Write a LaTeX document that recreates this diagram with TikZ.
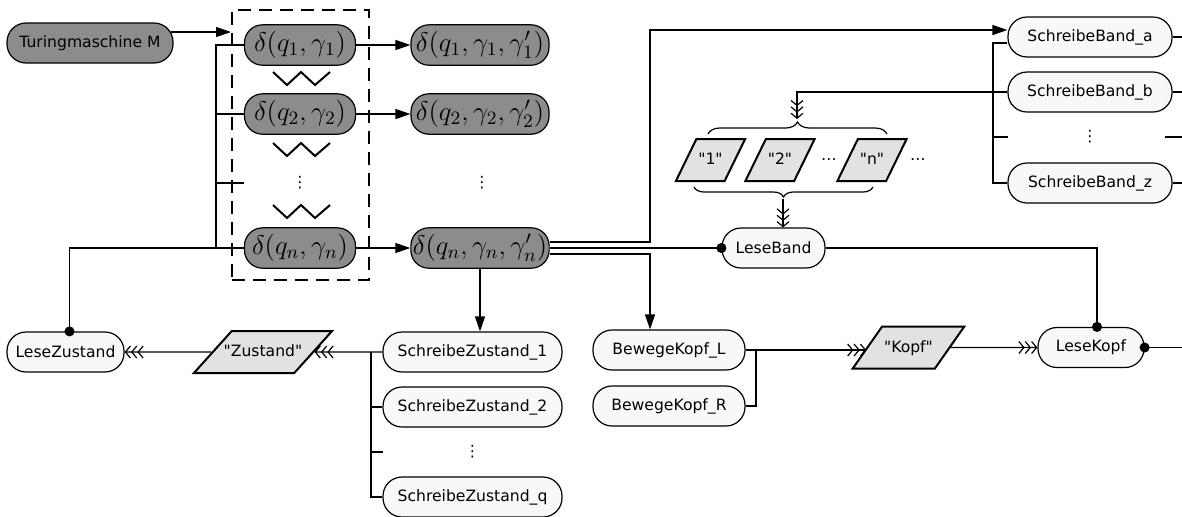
\RequirePackage{fix-cm}
\documentclass[tikz,border=0pt]{standalone}
\usepackage[no-math]{fontspec}
\newfontfamily\sansschrift{DejaVu Sans}
\usetikzlibrary{shapes.geometric, arrows.meta, decorations.pathreplacing}
\definecolor{dunkelgrau}{HTML}{8C8C8C}
\definecolor{hellgrau}{HTML}{E2E2E2}
\definecolor{fastweiss}{HTML}{F8F8F8}
\newcommand\beschriftung{\sansschrift\fontsize{7.8}{9}\selectfont}
\tikzset{
  zustand/.style={rectangle, draw, line width=0.6pt, fill=dunkelgrau, rounded corners=9pt,
    minimum height=19pt, inner xsep=1pt, font=\fontsize{13.5}{16}\selectfont},
  aktion/.style={rectangle, draw, line width=0.6pt, fill=fastweiss, rounded corners=9.5pt,
    minimum height=20pt, inner xsep=1pt, font=\beschriftung},
  daten/.style 2 args={trapezium, trapezium left angle=#1, trapezium right angle=#2,
    trapezium stretches body, draw, line width=1pt, fill=hellgrau, text height=6pt,
    text depth=1.5pt, inner xsep=1pt, inner ysep=6.75pt, font=\beschriftung},
  punkte/.style={inner sep=0pt, font=\beschriftung},
  verbindung/.style={line width=0.6pt},
  pfeil/.style={verbindung, -{Triangle[length=7.5pt,width=5pt]}},
  datenpfeil/.style={verbindung, -{Straight Barb[length=2.5pt,width=6pt]
    Straight Barb[length=2.5pt,width=6pt] Straight Barb[length=2.5pt,width=6pt]}},
  punktpfeil/.style={verbindung, -{Circle[length=5pt]}, shorten >=-2.5pt},
}
\begin{document}
\begin{tikzpicture}[x=0.5pt, y=-0.5pt]
\useasboundingbox (0,0) rectangle (1182,516);
% Turingmaschine und Uebergaenge
\node[draw, line width=1pt, dash pattern=on 6.5pt off 4pt, minimum width=68.5pt, minimum height=135pt, inner sep=0pt] (auswahl) at (300.5,145) {};
\node[zustand, font=\beschriftung, minimum width=83pt, minimum height=20pt, rounded corners=9.5pt] (tm) at (90,43) {Turingmaschine M};
\node[zustand, minimum width=55.5pt] (d1) at (300,45) {$\delta(q_1,\gamma_1)$};
\node[zustand, minimum width=55.5pt] (d2) at (300,114) {$\delta(q_2,\gamma_2)$};
\node[punkte, minimum width=55.5pt] (dd) at (300,183) {⋮};
\node[zustand, minimum width=55.5pt] (dn) at (300,248) {$\delta(q_n,\gamma_n)$};
\node[zustand, minimum width=69pt] (e1) at (480,45) {$\delta(q_1,\gamma_1,\gamma'_1)$};
\node[zustand, minimum width=69pt] (e2) at (480,114) {$\delta(q_2,\gamma_2,\gamma'_2)$};
\node[punkte] (ed) at (482,183) {⋮};
\node[zustand, minimum width=69pt] (en) at (480,248) {$\delta(q_n,\gamma_n,\gamma'_n)$};
\draw[line width=1pt] (273,72) -- (287,85) -- (301,72) -- (315,85) -- (330,72);
\draw[line width=1pt] (273,143) -- (287,156) -- (301,143) -- (315,156) -- (330,143);
\draw[line width=1pt] (273,205) -- (287,218) -- (301,205) -- (315,218) -- (330,205);
\coordinate (bl) at (216,0);
\draw[pfeil] ([xshift=-1.5pt,yshift=5.5pt]tm.east) -- ([yshift=5.5pt]tm.east -| auswahl.west);
\draw[verbindung] (d1.west) -- (d1.west -| bl) -- (dn.west -| bl) -- (dn.west);
\draw[verbindung] (d2.west) -- (d2.west -| bl);
\draw[verbindung] (dd.west) -- (dd.west -| bl);
\draw[pfeil] (d1.east) -- (e1.west);
\draw[pfeil] (d2.east) -- (e2.west);
\draw[pfeil] (dn.east) -- (en.west);
% Band
\node[aktion, minimum width=82pt] (sba) at (1090,37) {SchreibeBand\_a};
\node[aktion, minimum width=82pt] (sbb) at (1090,92) {SchreibeBand\_b};
\node[punkte, minimum width=82pt] (sbd) at (1090,137) {⋮};
\node[aktion, minimum width=82pt] (sbz) at (1090,183) {SchreibeBand\_z};
\node[daten={64}{116}, minimum width=34pt] (b1) at (710.5,160) {"1"};
\node[daten={64}{116}, minimum width=34pt] (b2) at (780,160) {"2"};
\node[punkte] (bp1) at (829,160) {…};
\node[daten={64}{116}, minimum width=34pt] (bn) at (872,160) {"n"};
\node[punkte] (bp2) at (918,160) {…};
\node[aktion, minimum width=51.5pt] (lb) at (773.5,248) {LeseBand};
\draw[verbindung, decorate, decoration={brace, amplitude=6pt}] (708,134) -- (887,134);
\draw[verbindung, decorate, decoration={brace, amplitude=5pt, mirror}] (694,187) -- (873,187);
\coordinate (klo) at (797,119);
\coordinate (klu) at (783,199);
\coordinate (knick) at (650,0);
\coordinate (bb) at (993,0);
\coordinate (rand) at (1182,0);
\draw[pfeil] ([yshift=3pt]en.east) -| ([yshift=3.5pt]sba.west -| knick) -- ([yshift=3.5pt]sba.west);
\draw[punktpfeil] (en.east) -- (lb.west);
\draw[verbindung] ([yshift=-3pt]sba.west) -| (bb |- sbz.west) -- (sbz.west);
\draw[verbindung] (sbd.west) -- (sbd.west -| bb);
\draw[datenpfeil] (sbb.west) -| (klo);
\draw[datenpfeil] (klu) -- (klu |- lb.north);
\draw[verbindung] (sba.east) -- (sba.east -| rand);
\draw[verbindung] (sbb.east) -- (sbb.east -| rand);
\draw[verbindung] ([xshift=-3.5pt]sbd.east) -- (sbd.east -| rand);
\draw[verbindung] (sbz.east) -- (sbz.east -| rand);
% Zustand
\node[aktion, minimum width=58.5pt] (lz) at (65.5,352) {LeseZustand};
\node[daten={48}{132}, minimum width=69pt, inner xsep=-4pt] (dz) at (263,352) {"Zustand"};
\node[aktion, minimum width=89.5pt] (sz1) at (472.5,352) {SchreibeZustand\_1};
\node[aktion, minimum width=89.5pt] (sz2) at (472.5,407) {SchreibeZustand\_2};
\node[punkte, minimum width=89.5pt] (szd) at (472.5,452) {⋮};
\node[aktion, minimum width=89.5pt] (szq) at (472.5,497) {SchreibeZustand\_q};
\coordinate (bz) at (371,0);
\draw[punktpfeil] (dn.west -| bl) -| ([xshift=2pt]lz.north);
\draw[pfeil] (en.south) -- (en.south |- sz1.north);
\draw[datenpfeil] (sz1.west) -- (dz.east);
\draw[datenpfeil] (dz.west) -- (lz.east);
\draw[verbindung] (sz1.west -| bz) |- (szq.west);
\draw[verbindung] (sz2.west) -- (sz2.west -| bz);
\draw[verbindung] (szd.west) -- (szd.west -| bz);
% Kopf
\node[aktion, minimum width=76pt] (bkl) at (669,350) {BewegeKopf\_L};
\node[aktion, minimum width=76pt] (bkr) at (669,406) {BewegeKopf\_R};
\node[daten={55}{125}, minimum width=55.5pt] (dk) at (908.5,347.5) {"Kopf"};
\node[aktion, minimum width=53pt] (lk) at (1091,347.5) {LeseKopf};
\coordinate (bk) at (756,0);
\draw[pfeil] ([yshift=-3pt]en.east) -| (knick |- bkl.north);
\draw[verbindung] (bkr.east) -| (bk |- bkl.east);
\draw[datenpfeil] (bkl.east) -- (bkl.east -| dk.west);
\draw[datenpfeil] (dk.east) -- (lk.west);
\draw[punktpfeil] (lb.east) -| ([xshift=3pt]lk.north);
\draw[punktpfeil] (lk.east -| rand) -- (lk.east);
\end{tikzpicture}
\end{document}
